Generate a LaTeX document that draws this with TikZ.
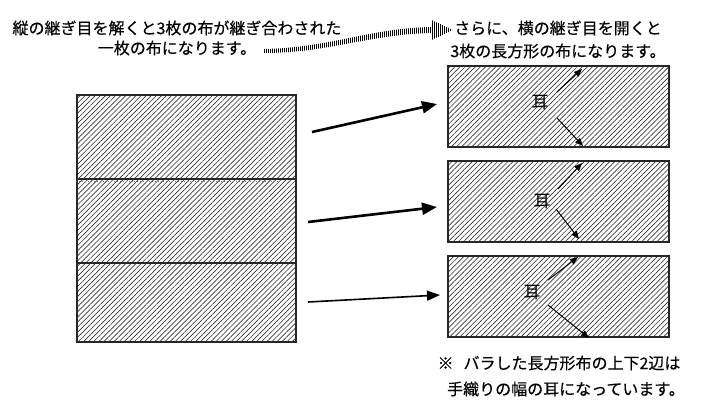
\documentclass[tikz,border=0pt]{standalone}
\usepackage{fontspec}
\setmainfont{Noto Sans CJK JP}[FakeBold=0.25]
\newfontfamily\mimifont{Noto Sans CJK JP}
\usetikzlibrary{patterns.meta,arrows.meta,calc}
\tikzset{
  cloth/.style={draw=black!85, line width=1.2pt, inner sep=0pt,
    pattern={Lines[angle=45,distance=3.6pt,line width=0.65pt]}, pattern color=black!80},
  txt/.style={inner sep=0pt, font=\fontsize{16}{18}\selectfont},
  mimi/.style={inner sep=0pt, font=\mimifont\fontsize{17}{19}\selectfont},
  bigarrow/.style={line width=2.6pt, -{Triangle[length=15pt,width=12pt]}},
  midarrow/.style={line width=1.6pt, -{Triangle[length=13pt,width=10pt]}},
  earrow/.style={line width=1pt, -{Triangle[length=8pt,width=6.5pt]}},
}
\begin{document}
\begin{tikzpicture}[x=1pt,y=-1pt]
\useasboundingbox (0,0) rectangle (720,420);
\fill[white] (0,0) rectangle (720,420);

% texts
\node[txt] (t1) at (177,28) {縦の継ぎ目を解くと3枚の布が継ぎ合わされた};
\node[txt] (t2) at (177,48) {一枚の布になります。};
\node[txt] (t3) at (558,28) {さらに、横の継ぎ目を開くと};
\node[txt] (t4) at (558,51) {3枚の長方形の布になります。};
\node[txt] (t5) at (559,363) {※\hspace{10pt}バラした長方形布の上下2辺は};
\node[txt] (t6) at (566,389) {手織りの幅の耳になっています。};

% striped curved arrow
\fill[pattern={Lines[angle=90,distance=2pt,line width=0.9pt]}, pattern color=black]
  (263,49) .. controls (330,48) and (370,28) .. (432,27)
  -- (432,20) -- (453,30) -- (432,40) -- (432,33)
  .. controls (370,34) and (330,53) .. (263,53) -- cycle;

% left cloth
\node[cloth, minimum width=219pt, minimum height=84pt] (L1) at (186.5,137) {};
\node[cloth, minimum width=219pt, minimum height=84pt] (L2) at (186.5,221) {};
\node[cloth, minimum width=219pt, minimum height=79pt] (L3) at (186.5,302.5) {};
\draw[black!55, dotted, line width=0.9pt] ($(L2.north west)+(0,3)$) coordinate (dd1) -- ($(L2.north east)+(-15,3)$) coordinate (dd2);

% right cloths
\node[cloth, minimum width=221pt, minimum height=81pt] (R1) at (558.5,106.5) {};
\node[cloth, minimum width=221pt, minimum height=81pt] (R2) at (558.5,201.5) {};
\node[cloth, minimum width=221pt, minimum height=81pt] (R3) at (558.5,296.5) {};

% connectors
\coordinate (a1s) at (312,132); \coordinate (a1e) at (437,104);
\coordinate (a2s) at (308,222); \coordinate (a2e) at (437,207);
\coordinate (a3s) at (308,302); \coordinate (a3e) at (440,295);
\draw[bigarrow] (a1s) -- (a1e);
\draw[bigarrow] (a2s) -- (a2e);
\draw[midarrow] (a3s) -- (a3e);

% mimi labels
\node[mimi] (m1) at (540,103) {耳};
\node[mimi] (m2) at (542,202) {耳};
\node[mimi] (m3) at (532,293) {耳};
\coordinate (u1) at (582,69);  \coordinate (d1e) at (583,146);
\coordinate (u2) at (582,163); \coordinate (d2e) at (579,239);
\coordinate (u3) at (578,257); \coordinate (d3e) at (589,338);
\draw[earrow] (557,92) -- (u1);
\draw[earrow] (557,118) -- (d1e);
\draw[earrow] (558,189) -- (u2);
\draw[earrow] (556,209) -- (d2e);
\draw[earrow] (548,280) -- (u3);
\draw[earrow] (548,305) -- (d3e);
\end{tikzpicture}
\end{document}
